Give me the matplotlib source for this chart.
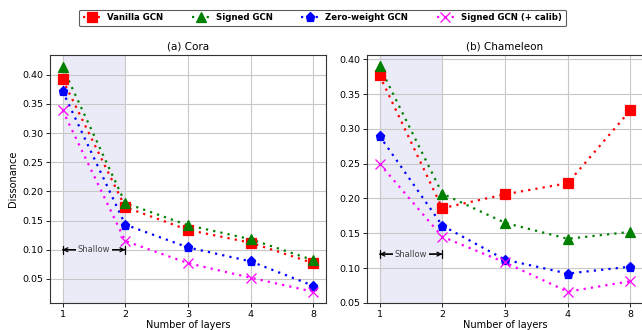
import numpy as np
import matplotlib
matplotlib.use("Agg")
import matplotlib.pyplot as plt

layers = ["1", "2", "3", "4", "8"]
series_names = ["Vanilla GCN", "Signed GCN", "Zero-weight GCN", "Signed GCN (+ calib)"]

cora_vanilla = [0.392, 0.173, 0.134, 0.112, 0.077]
cora_signed = [0.413, 0.180, 0.142, 0.118, 0.082]
cora_zero = [0.372, 0.143, 0.104, 0.080, 0.038]
cora_calib = [0.339, 0.115, 0.077, 0.052, 0.028]

cham_vanilla = [0.377, 0.186, 0.206, 0.222, 0.327]
cham_signed = [0.390, 0.207, 0.165, 0.142, 0.152]
cham_zero = [0.290, 0.161, 0.112, 0.092, 0.102]
cham_calib = [0.250, 0.145, 0.108, 0.066, 0.081]

shallow_y = [0.10, 0.12]

colors = ["red", "green", "blue", "magenta"]
markers = ["s", "^", "p", "x"]

fig = plt.figure(figsize=(6.42, 3.3), dpi=100)
ax1 = fig.add_axes([50 / 642, 27 / 330, 276 / 642, 248 / 330])
ax2 = fig.add_axes([367 / 642, 27 / 330, 276 / 642, 248 / 330])

span_color = "#ebebf8"
panels = [(ax1, "(a) Cora", [cora_vanilla, cora_signed, cora_zero, cora_calib], shallow_y[0]),
          (ax2, "(b) Chameleon", [cham_vanilla, cham_signed, cham_zero, cham_calib], shallow_y[1])]

dot_style = (0, (1, 2.3))
handles = []
for ax, title, data, sy in panels:
    ax.axvspan(0, 1, color=span_color, zorder=0, lw=0)
    x = np.arange(len(layers))
    hs = []
    for vals, col, mk, name in zip(data, colors, markers, series_names):
        ax.plot(x, vals, color=col, lw=1.6, linestyle=dot_style, zorder=2)
        ms = 6.8 if mk != "x" else 7.5
        ax.plot(x, vals, linestyle="none", marker=mk, color=col, ms=ms,
                mew=0.9, zorder=3)
        hs.append(ax.plot([], [], color=col, lw=1.6, linestyle=dot_style, marker=mk,
                          ms=ms, mew=0.9, label=name)[0])
    handles = hs
    ax.set_xticks(x)
    ax.set_xticklabels(layers)
    ax.set_xlim(-0.2, 4.2)
    ax.set_yticks(np.arange(0.05, 0.401, 0.05))
    ax.yaxis.set_major_formatter(matplotlib.ticker.FormatStrFormatter("%.2f"))
    ax.grid(True, color="#c8c8c8", lw=0.8, zorder=1)
    ax.set_axisbelow(True)
    ax.tick_params(labelsize=6.8, length=3, width=0.6, pad=2)
    for s in ax.spines.values():
        s.set_color("#333333"); s.set_linewidth(0.8)
    ax.set_title(title, fontsize=7.5, pad=4)
    ax.set_xlabel("Number of layers", fontsize=7, labelpad=0.5)
    ax.annotate("", xy=(0, sy), xytext=(1, sy),
                arrowprops=dict(arrowstyle="<->", color="black", lw=0.9,
                                shrinkA=0, shrinkB=0, mutation_scale=7), zorder=4)
    ax.annotate("", xy=(0, sy), xytext=(1, sy),
                arrowprops=dict(arrowstyle="|-|", color="black", lw=0.9,
                                shrinkA=0, shrinkB=0, mutation_scale=3), zorder=4)
    ax.text(0.5, sy, "Shallow", ha="center", va="center", fontsize=6, color="#444444",
            bbox=dict(facecolor=span_color, edgecolor="none", pad=1.0), zorder=5)

ax1.set_ylim(0.0087, 0.4338)
ax2.set_ylim(0.0497, 0.4063)
ax1.set_ylabel("Dissonance", fontsize=7, labelpad=3)

leg = fig.legend(handles=handles, loc="center", bbox_to_anchor=(322.5 / 642, 1 - 18 / 330),
                 ncol=4, prop={"weight": "bold", "size": 6.2}, frameon=True,
                 columnspacing=3.3, handlelength=2.0, handletextpad=0.8,
                 borderpad=0.45, fancybox=True)
leg.get_frame().set_edgecolor("#333333")
leg.get_frame().set_linewidth(0.8)

fig.savefig("out.png", dpi=100)
